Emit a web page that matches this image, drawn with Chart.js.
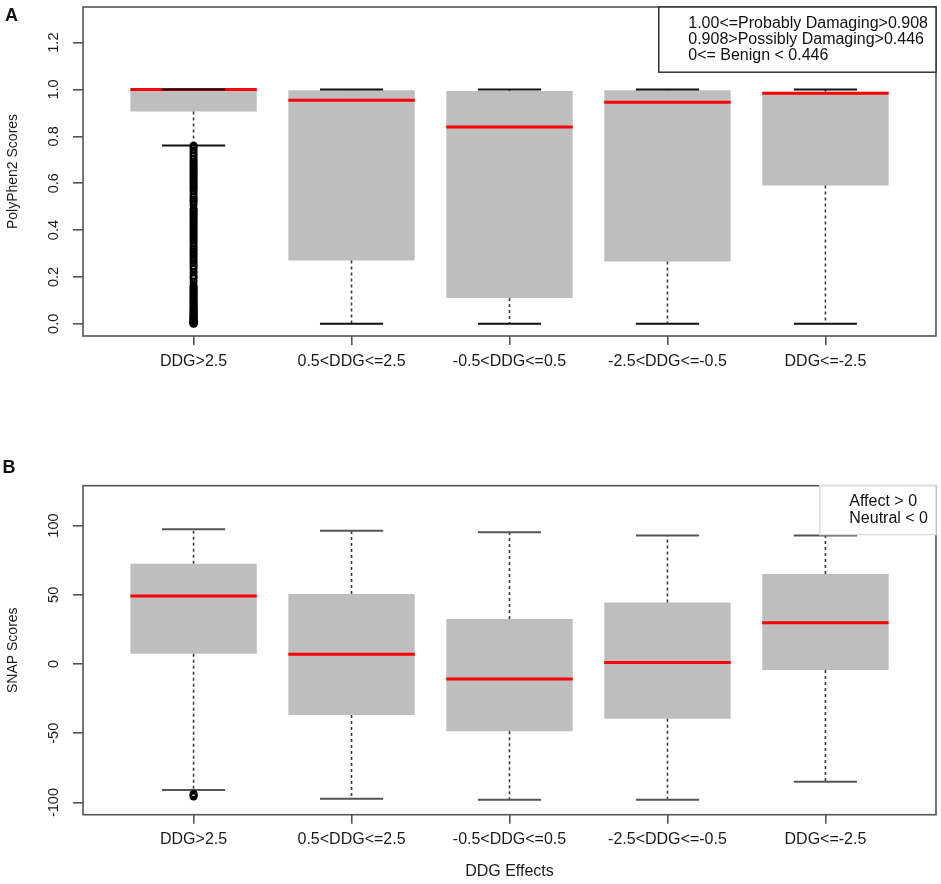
<!DOCTYPE html>
<html>
<head>
  <title>PolyPhen2 and SNAP scores by DDG effect</title>
  <script src="https://cdn.jsdelivr.net/npm/chart.js"></script>
  <style>
    body { margin: 0; background: #fff; }
    canvas { position: absolute; left: 0; }
    #chartA { top: 0; }
    #chartB { top: 440px; }
  </style>
</head>
<body>
  <canvas id="chartA" width="941" height="440"></canvas>
  <canvas id="chartB" width="941" height="444"></canvas>
  <script>
    var categories = ['DDG>2.5', '0.5<DDG<=2.5', '-0.5<DDG<=0.5', '-2.5<DDG<=-0.5', 'DDG<=-2.5'];

    // panel A: PolyPhen2 scores (box statistics)
    var polyLow    = [0.761, 0.000, 0.000, 0.000, 0.000];
    var polyQ1     = [0.906, 0.270, 0.110, 0.266, 0.590];
    var polyMedian = [1.000, 0.954, 0.840, 0.946, 0.984];
    var polyQ3     = [1.000, 0.997, 0.993, 0.997, 0.990];
    var polyHigh   = [1.000, 1.000, 1.000, 1.000, 1.000];
    var polyOutliers = [
      [0.000, 0.002, 0.004, 0.006, 0.008, 0.010, 0.013, 0.016, 0.019, 0.022, 0.026, 0.030,
       0.034, 0.038, 0.043, 0.048, 0.053, 0.058, 0.063, 0.069, 0.075, 0.081, 0.087, 0.093,
       0.099, 0.106, 0.113, 0.120, 0.127, 0.134, 0.141, 0.148, 0.155, 0.162, 0.180, 0.194,
       0.205, 0.220, 0.236, 0.247, 0.258, 0.268, 0.279, 0.290, 0.300, 0.311, 0.320, 0.332,
       0.346, 0.356, 0.366, 0.376, 0.386, 0.396, 0.406, 0.416, 0.426, 0.436, 0.446, 0.455,
       0.464, 0.473, 0.482, 0.491, 0.508, 0.522, 0.531, 0.540, 0.553, 0.567, 0.576, 0.585,
       0.594, 0.603, 0.612, 0.621, 0.630, 0.639, 0.648, 0.657, 0.666, 0.675, 0.684, 0.693,
       0.703, 0.716, 0.727, 0.740, 0.752, 0.760],
      [], [], [], []
    ];
    var polyLimits = [0, 1.3];
    var polyTicks = [0, 0.2, 0.4, 0.6, 0.8, 1.0, 1.2];
    var polyTickLabels = ['0.0', '0.2', '0.4', '0.6', '0.8', '1.0', '1.2'];
    var polyLegend = ['1.00<=Probably Damaging>0.908', '0.908>Possibly Damaging>0.446', '0<= Benign < 0.446'];

    // panel B: SNAP scores
    var snapLow    = [-91.0, -97.2, -98.0, -98.0, -85.0];
    var snapQ1     = [7.5, -36.8, -48.6, -39.5, -4.3];
    var snapMedian = [49.1, 7.0, -10.8, 1.2, 29.8];
    var snapQ3     = [72.4, 50.5, 32.5, 44.5, 65.0];
    var snapHigh   = [97.3, 96.3, 95.1, 92.9, 92.9];
    var snapOutliers = [[-93.8, -94.8, -95.6], [], [], [], []];
    var snapLimits = [-100, 120];
    var snapTicks = [-100, -50, 0, 50, 100];
    var snapTickLabels = ['-100', '-50', '0', '50', '100'];
    var snapLegend = ['Affect > 0', 'Neutral < 0'];

    var FONT = "'Liberation Sans', Arial, Helvetica, sans-serif";
    Chart.defaults.font.family = FONT;
    Chart.defaults.color = '#1a1a1a';

    // like R: extend the limits by 4% on each side
    function extend(lim) {
      var d = (lim[1] - lim[0]) * 0.04;
      return [lim[0] - d, lim[1] + d];
    }

    function boxDatasets(low, q1, med, q3, high, outliers, capColor) {
      var boxes = [], medians = [], whiskers = [], caps = [], points = [];
      for (var i = 0; i < categories.length; i++) {
        var x = i + 1;
        boxes.push({ x: x, y: [q1[i], q3[i]] });
        medians.push({ x: x - 0.4, y: med[i] }, { x: x + 0.4, y: med[i] }, { x: x, y: null });
        whiskers.push({ x: x, y: q3[i] }, { x: x, y: high[i] }, { x: x, y: null },
                      { x: x, y: q1[i] }, { x: x, y: low[i] }, { x: x, y: null });
        caps.push({ x: x - 0.2, y: high[i] }, { x: x + 0.2, y: high[i] }, { x: x, y: null },
                  { x: x - 0.2, y: low[i] }, { x: x + 0.2, y: low[i] }, { x: x, y: null });
        outliers[i].forEach(function (v) { points.push({ x: x, y: v }); });
      }
      return [
        { type: 'bar', data: boxes, backgroundColor: '#bebebe', borderWidth: 0,
          barPercentage: 1, categoryPercentage: 0.8, order: 5 },
        { type: 'line', data: medians, borderColor: '#ff0000', borderWidth: 3,
          pointRadius: 0, borderCapStyle: 'butt', order: 4 },
        { type: 'line', data: whiskers, borderColor: '#3a3a3a', borderWidth: 1.6,
          borderDash: [3, 3], pointRadius: 0, order: 3 },
        { type: 'line', data: caps, borderColor: capColor, borderWidth: 2,
          pointRadius: 0, borderCapStyle: 'butt', order: 2 },
        { type: 'scatter', data: points, pointRadius: 3, pointBorderWidth: 2,
          pointBorderColor: '#000', pointBackgroundColor: 'rgba(0,0,0,0)',
          borderColor: '#000', backgroundColor: 'rgba(0,0,0,0)', order: 1 }
      ];
    }

    var decor = {
      id: 'boxDecor',
      afterDraw: function (chart, args, o) {
        var ctx = chart.ctx, a = chart.chartArea;
        ctx.save();
        ctx.strokeStyle = '#555';
        ctx.lineWidth = 1.6;
        ctx.strokeRect(a.left, a.top, a.right - a.left, a.bottom - a.top);

        ctx.font = '16px ' + FONT;
        var step = 16.3;
        var w = Math.max.apply(null, o.legend.map(function (t) { return ctx.measureText(t).width; })) + 37.5;
        var h = (o.legend.length + 1) * step;
        var x0 = a.right - w, y0 = a.top;
        ctx.fillStyle = '#fff';
        ctx.fillRect(x0, y0, w, h);
        ctx.lineWidth = 1.5;
        ctx.strokeStyle = o.legendBorder;
        ctx.strokeRect(x0, y0, w, h);
        ctx.fillStyle = '#111';
        ctx.textBaseline = 'middle';
        o.legend.forEach(function (t, i) { ctx.fillText(t, x0 + 29.5, y0 + step * (i + 1)); });

        ctx.font = 'bold 18px ' + FONT;
        ctx.textBaseline = 'alphabetic';
        ctx.fillText(o.letter, o.letterX, o.letterY);
        ctx.restore();
      }
    };

    function makeChart(id, s) {
      var yr = extend(s.limits);
      new Chart(document.getElementById(id), {
        type: 'bar',
        data: { datasets: boxDatasets(s.low, s.q1, s.med, s.q3, s.high, s.outliers, s.capColor) },
        options: {
          responsive: false,
          animation: false,
          events: [],
          layout: { autoPadding: false, padding: { top: s.top, right: 5, left: 0, bottom: 0 } },
          scales: {
            x: {
              type: 'linear', min: 0.3, max: 5.7, offset: false,
              afterBuildTicks: function (sc) { sc.ticks = categories.map(function (c, i) { return { value: i + 1 }; }); },
              afterFit: function (sc) { sc.height = s.xHeight; sc.paddingLeft = 0; sc.paddingRight = 0; },
              ticks: {
                callback: function (v, i) { return categories[i]; },
                autoSkip: false, minRotation: 0, maxRotation: 0, padding: 6.5,
                font: { size: 16 }
              },
              grid: { offset: false, drawOnChartArea: false, tickLength: 9, color: '#555', lineWidth: 1.6 },
              border: { display: false },
              title: { display: !!s.xTitle, text: s.xTitle || '',
                       font: { size: 16 }, padding: { top: 0, bottom: 2.7 } }
            },
            y: {
              type: 'linear', min: yr[0], max: yr[1],
              afterBuildTicks: function (sc) { sc.ticks = s.ticks.map(function (v) { return { value: v }; }); },
              afterFit: function (sc) { sc.width = 83; sc.paddingTop = 0; sc.paddingBottom = 0; },
              ticks: {
                callback: function (v, i) { return s.tickLabels[i]; },
                minRotation: 90, maxRotation: 90, crossAlign: 'center', padding: s.tickPad,
                font: { size: 14.5 }
              },
              grid: { drawOnChartArea: false, tickLength: 10, color: '#555', lineWidth: 1.6 },
              border: { display: false },
              title: { display: true, text: s.yTitle,
                       font: { size: 14 }, padding: { top: 4.6, bottom: 0 } }
            }
          },
          plugins: {
            legend: { display: false },
            tooltip: { enabled: false },
            boxDecor: { legend: s.legend, legendBorder: s.legendBorder,
                        letter: s.letter, letterX: s.letterX, letterY: s.letterY }
          }
        },
        plugins: [decor]
      });
    }

    makeChart('chartA', {
      low: polyLow, q1: polyQ1, med: polyMedian, q3: polyQ3, high: polyHigh, outliers: polyOutliers,
      limits: polyLimits, ticks: polyTicks, tickLabels: polyTickLabels, tickPad: 9,
      capColor: '#111', top: 7, xHeight: 104, yTitle: 'PolyPhen2 Scores',
      legend: polyLegend, legendBorder: '#333', letter: 'A', letterX: 5, letterY: 20.7
    });

    makeChart('chartB', {
      low: snapLow, q1: snapQ1, med: snapMedian, q3: snapQ3, high: snapHigh, outliers: snapOutliers,
      limits: snapLimits, ticks: snapTicks, tickLabels: snapTickLabels, tickPad: 4.5,
      capColor: '#555', top: 45.7, xHeight: 69.3, yTitle: 'SNAP Scores', xTitle: 'DDG Effects',
      legend: snapLegend, legendBorder: '#dcdcdc', letter: 'B', letterX: 2.5, letterY: 32.7
    });
  </script>
</body>
</html>
